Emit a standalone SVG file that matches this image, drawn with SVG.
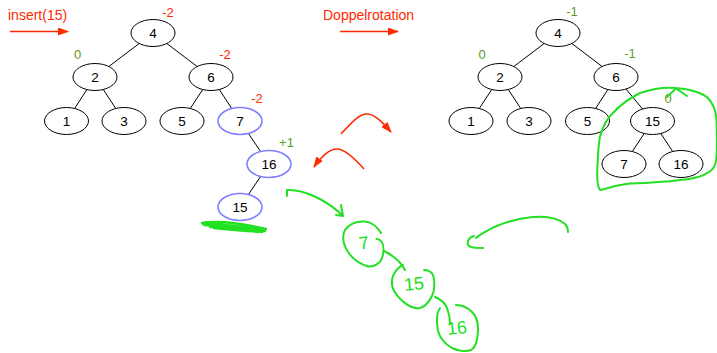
<svg xmlns="http://www.w3.org/2000/svg" width="717" height="353" viewBox="0 0 717 353">
<defs>
<marker id="ah" markerUnits="userSpaceOnUse" markerWidth="11" markerHeight="8" refX="10" refY="4" orient="auto">
<path d="M0,0 L11,4 L0,8 z" fill="#ff2a00"/>
</marker>
<style>
.n{fill:#fff;stroke:#000;stroke-width:1}
.b{fill:#fff;stroke:#7f80ff;stroke-width:1.6}
.t{font-family:"Liberation Sans",Arial,sans-serif;font-size:13.5px;fill:#000;text-anchor:middle}
.r{font-family:"Liberation Sans",Arial,sans-serif;font-size:13px;fill:#ff2a00;text-anchor:middle}
.g{font-family:"Liberation Sans",Arial,sans-serif;font-size:13px;fill:#5c9c23;text-anchor:middle}
.h{font-family:"Liberation Sans",Arial,sans-serif;font-size:14px;fill:#ff2a00}
.e{stroke:#000;stroke-width:1;fill:none}
.ra{stroke:#ff2a00;stroke-width:1.6;fill:none;marker-end:url(#ah)}
.gr{stroke:#22e022;stroke-width:2;fill:none;stroke-linecap:round;stroke-linejoin:round}
.gt{font-family:"Liberation Sans",Arial,sans-serif;font-size:18px;fill:#22e022;text-anchor:middle}
</style>
</defs>
<rect width="717" height="353" fill="#fff"/>

<g id="connectors">
<line class="e" x1="153" y1="33" x2="95" y2="77"/>
<line class="e" x1="153" y1="33" x2="211" y2="77"/>
<line class="e" x1="95" y1="77" x2="66.5" y2="121"/>
<line class="e" x1="95" y1="77" x2="124" y2="121"/>
<line class="e" x1="211" y1="77" x2="182" y2="121"/>
<line class="e" x1="211" y1="77" x2="240" y2="121"/>
<line class="e" x1="240" y1="121" x2="269" y2="164"/>
<line class="e" x1="269" y1="164" x2="240" y2="207"/>
<line class="e" x1="558" y1="33" x2="500" y2="77"/>
<line class="e" x1="558" y1="33" x2="616" y2="77"/>
<line class="e" x1="500" y1="77" x2="471" y2="121"/>
<line class="e" x1="500" y1="77" x2="529" y2="121"/>
<line class="e" x1="616" y1="77" x2="587.5" y2="121"/>
<line class="e" x1="616" y1="77" x2="652.5" y2="121"/>
<line class="e" x1="652.5" y1="121" x2="624" y2="164"/>
<line class="e" x1="652.5" y1="121" x2="681" y2="164"/>
</g>

<g id="L4"><ellipse class="n" cx="153" cy="33" rx="22" ry="13.5"/><text class="t" x="153" y="38">4</text></g>
<g id="L2"><ellipse class="n" cx="95" cy="77" rx="22" ry="13.5"/><text class="t" x="95" y="82">2</text></g>
<g id="L6"><ellipse class="n" cx="211" cy="77" rx="22" ry="13.5"/><text class="t" x="211" y="82">6</text></g>
<g id="L1"><ellipse class="n" cx="66.5" cy="121" rx="22" ry="13.5"/><text class="t" x="66.5" y="126">1</text></g>
<g id="L3"><ellipse class="n" cx="124" cy="121" rx="22" ry="13.5"/><text class="t" x="124" y="126">3</text></g>
<g id="L5"><ellipse class="n" cx="182" cy="121" rx="22" ry="13.5"/><text class="t" x="182" y="126">5</text></g>
<g id="L7"><ellipse class="b" cx="240" cy="121" rx="22" ry="13.5"/><text class="t" x="240" y="126">7</text></g>
<g id="L16"><ellipse class="b" cx="269" cy="164" rx="22" ry="13.5"/><text class="t" x="269" y="169">16</text></g>
<g id="L15"><ellipse class="b" cx="240" cy="207" rx="22" ry="13.5"/><text class="t" x="240" y="212">15</text></g>

<g id="R4"><ellipse class="n" cx="558" cy="33" rx="22" ry="13.5"/><text class="t" x="558" y="38">4</text></g>
<g id="R2"><ellipse class="n" cx="500" cy="77" rx="22" ry="13.5"/><text class="t" x="500" y="82">2</text></g>
<g id="R6"><ellipse class="n" cx="616" cy="77" rx="22" ry="13.5"/><text class="t" x="616" y="82">6</text></g>
<g id="R1"><ellipse class="n" cx="471" cy="121" rx="22" ry="13.5"/><text class="t" x="471" y="126">1</text></g>
<g id="R3"><ellipse class="n" cx="529" cy="121" rx="22" ry="13.5"/><text class="t" x="529" y="126">3</text></g>
<g id="R5"><ellipse class="n" cx="587.5" cy="121" rx="22" ry="13.5"/><text class="t" x="587.5" y="126">5</text></g>
<g id="R15"><ellipse class="n" cx="652.5" cy="121" rx="22" ry="13.5"/><text class="t" x="652.5" y="126">15</text></g>
<g id="R7"><ellipse class="n" cx="624" cy="164" rx="22" ry="13.5"/><text class="t" x="624" y="169">7</text></g>
<g id="R16"><ellipse class="n" cx="681" cy="164" rx="22" ry="13.5"/><text class="t" x="681" y="169">16</text></g>

<g id="labels">
<text class="r" x="168" y="16.5">-2</text>
<text class="g" x="77.5" y="58.5">0</text>
<text class="r" x="225" y="58.5">-2</text>
<text class="r" x="257" y="102.5">-2</text>
<text class="g" x="286.5" y="146.5">+1</text>
<text class="g" x="572" y="15.5">-1</text>
<text class="g" x="482" y="58.5">0</text>
<text class="g" x="630" y="58">-1</text>
<text class="g" x="668" y="102.5">0</text>
</g>

<g id="headings">
<text class="h" x="8" y="19.5">insert(15)</text>
<line class="ra" x1="10" y1="31.5" x2="68" y2="31.5"/>
<text class="h" x="323" y="19.5">Doppelrotation</text>
<line class="ra" x1="340" y1="31.5" x2="398" y2="31.5"/>
<path class="ra" d="M341,134 C352,122 360,113 368,114 C376,115 384,124 391,132"/>
<path class="ra" d="M364,169 C356,160 345,149 337,149 C329,149 320,158 314,167"/>
</g>

<g id="sketch">
<path class="gr" style="stroke-width:2.4" d="M202,223 C220,220 245,224 266,229 M204,225 C225,226 245,229 262,232 M206,222 L212,226 M210,227 C228,228 246,231 258,232 M203,224 C222,223 244,227 264,230 M214,228 C232,230 250,232 265,231"/>
<path class="gr" d="M287,196 L287,190 C302,189 326,199 343,216 M341,205 L343,216 L336,215"/>
<path class="gr" d="M381,233 C378,228 372,222 365,221.5 C358,221 350,223 345,230 C342,236 343,244 348,252 C352,258 360,264 368,266.5 C374,267 380,264 382,258 C384,252 384,245 381.5,241.5 C380,239.5 378,239 376.5,239"/>
<path class="gr" d="M384,251 C392,255 400,260 405,270"/>
<path class="gr" d="M403,265 C398,267 393,273 392,280 C391,288 395,294 403,301.5 C408,306 413,308 418,308.5 C424,308 429,302 432,296 C435,290 435,280 433,275 C431,271 428,270 424,270"/>
<path class="gr" d="M435,297 C440,299 445,303 447,308 C449,313 450,318 450,324"/>
<path class="gr" d="M440,308 C437,312 436,320 438,331 C440,338 445,344 452,348 C458,351 466,352 471,350 C476,347 478,338 478,328 C478,321 476,316 472,312 C468,308 462,305 456,305"/>
<path class="gr" d="M568,232 C568,229 567,226 565,224 C558,218 545,216 533,217 C520,218 505,222 492,228 C485,232 479,235 476,238 M474,236 C469,237 467,241 468,245 C470,248 476,248 483,248"/>
<path class="gr" d="M675,88 C690,89 700,92 707,97 C713,103 716,112 716.5,120 C717,135 717,150 716.5,157 C716,164 714,168 711.5,170 C705,176 693,179 680,180 C665,182 645,183 630,183.5 C615,185 606,189 600,190 C597,186 597,178 597.3,170 C598,158 598,146 600,136.7 C603,126 607,118 613,113 C620,105 630,98 640,93 C652,89 664,87 675,88 M667,97 L676,88.5 L687,96"/>
<text class="gt" x="364" y="249" transform="rotate(-8 364 243)">7</text>
<text class="gt" x="414" y="290" transform="rotate(-6 414 284)">15</text>
<text class="gt" x="457" y="334" transform="rotate(-6 457 328)">16</text>
</g>
</svg>
